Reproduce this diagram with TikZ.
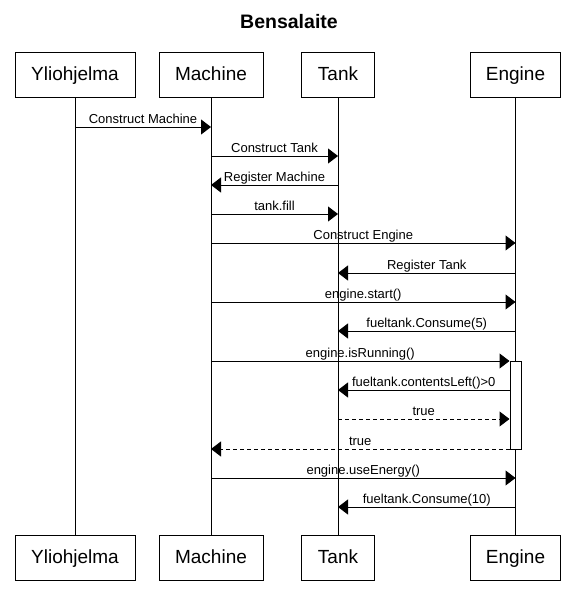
\documentclass[tikz,border=0pt]{standalone}
\usepackage{fontspec}
\setmainfont{Liberation Sans}
\usetikzlibrary{arrows.meta}
\tikzset{
  actor/.style={draw, line width=1pt, minimum height=45pt, inner sep=0pt,
    text height=13.6pt, text depth=1.2pt, font=\fontsize{19}{22}\selectfont},
  msg/.style={line width=1pt, -{Triangle[length=10pt,width=15pt]}},
  ret/.style={msg, dash pattern=on 4pt off 3pt},
  lbl/.style={anchor=base, yshift=4pt, inner sep=0pt,
    font=\fontsize{13}{15}\selectfont},
}
\begin{document}
\begin{tikzpicture}[x=1pt,y=-1pt]
\useasboundingbox (0,0) rectangle (575,603);
\node[font=\bfseries\fontsize{19.5}{22}\selectfont] (title) at (289,22) {Bensalaite};

% actors and lifelines
\foreach \n/\x/\w/\t in {yli/75/120/Yliohjelma, mac/211/104/Machine,
                         tank/338/73/Tank, eng/515.5/90/Engine}
{
    \node[actor, minimum width=\w pt] (\n-top) at (\x,74.5) {\t};
    \node[actor, minimum width=\w pt] (\n-bot) at (\x,557.5) {\t};
    \draw[line width=1pt] (\n-top) -- (\n-bot);
}

% activation of engine.isRunning()
\node[draw, fill=white, line width=1pt, inner sep=0pt,
      minimum width=11pt, minimum height=88pt] (act) at (515.5,405) {};

% messages
\foreach \a/\b/\y/\s/\t in {
    yli-top/mac-top/127/msg/Construct Machine,
    mac-top/tank-top/156/msg/Construct Tank,
    tank-top/mac-top/185/msg/Register Machine,
    mac-top/tank-top/214/msg/tank.fill,
    mac-top/eng-top/243/msg/Construct Engine,
    eng-top/tank-top/273/msg/Register Tank,
    mac-top/eng-top/302/msg/engine.start(),
    eng-top/tank-top/331/msg/fueltank.Consume(5),
    mac-top/act.west/361/msg/engine.isRunning(),
    act.west/tank-top/390/msg/fueltank.contentsLeft()>0,
    tank-top/act.west/419/ret/true,
    act.west/mac-top/449/ret/true,
    mac-top/eng-top/478/msg/engine.useEnergy(),
    eng-top/tank-top/507/msg/fueltank.Consume(10)}
{
    \draw[\s] (\a |- 0,\y) -- node[lbl] {\t} (\b |- 0,\y);
}
\end{tikzpicture}
\end{document}
